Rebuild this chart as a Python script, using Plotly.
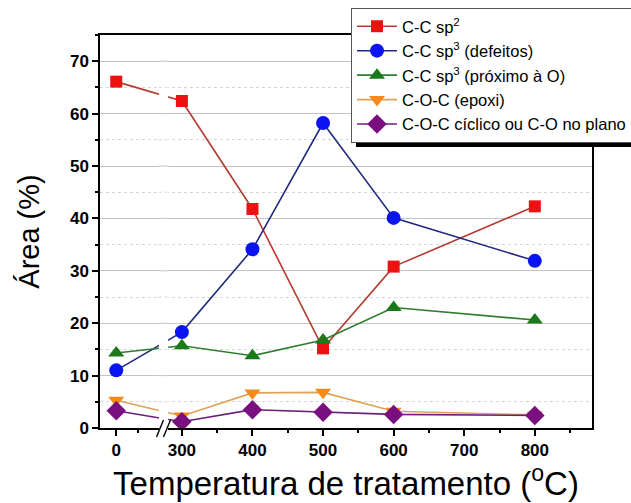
import plotly.graph_objects as go

# ---- data ----
temperaturas = [0, 300, 400, 500, 600, 800]
cc_sp2 = [66.1, 62.4, 41.8, 15.2, 30.8, 42.3]
cc_sp3_defeitos = [11.0, 18.3, 34.1, 58.2, 40.1, 31.9]
cc_sp3_proximo = [14.3, 15.7, 13.8, 16.8, 23.0, 20.6]
coc_epoxi = [5.3, 2.3, 6.7, 6.8, 3.2, 2.5]
coc_ciclico = [3.3, 1.2, 3.5, 3.0, 2.6, 2.4]

x_tick_labels = ["0", "300", "400", "500", "600", "700", "800"]
y_ticks = [0, 10, 20, 30, 40, 50, 60, 70]

# axis break: the "0" point is drawn just left of the break
ZERO_POS = 207
def xmap(t):
    return ZERO_POS if t == 0 else t

xs = [xmap(t) for t in temperaturas]
XR = [184, 881]
YR = [0, 75]

series = [
    ("C-C sp<sup>2</sup>", cc_sp2, "square", "#ee1111", "#b53a30", 12),
    ("C-C sp<sup>3</sup> (defeitos)", cc_sp3_defeitos, "circle", "#0a14f0", "#1f2a80", 14),
    ("C-C sp<sup>3</sup> (próximo à O)", cc_sp3_proximo, "triangle-up", "#1a7a1a", "#2f7d2f", 14),
    ("C-O-C (epoxi)", coc_epoxi, "triangle-down", "#f58a1a", "#e0a255", 14),
    ("C-O-C cíclico ou C-O no plano", coc_ciclico, "diamond", "#7a0f80", "#6a1f78", 15),
]

fig = go.Figure()
for name, vals, sym, mc, lc, ms in series:
    fig.add_trace(go.Scatter(
        x=xs, y=vals, name=name, mode="lines+markers",
        line=dict(color=lc, width=1.6),
        marker=dict(symbol=sym, color=mc, size=ms, line=dict(width=0)),
    ))

W, H = 631, 503
ML, MR, MT, MB = 100, 39, 35, 75
pw = W - ML - MR
ph = H - MT - MB

def px2paper_x(px):
    return (px - ML) / pw

def py2paper_y(py):
    return (H - MB - py) / ph

shapes = []
# gap in the data lines at the axis break
gap0, gap1 = 267.5, 280.5
shapes.append(dict(type="rect", xref="x", yref="y", x0=gap0, x1=gap1, y0=0.4, y1=74.6,
                   fillcolor="white", line=dict(width=0), layer="above"))
# redraw gridlines across the gap
for v in range(5, 75, 5):
    major = v % 10 == 0
    shapes.append(dict(type="line", xref="x", yref="y", x0=gap0 - 0.5, x1=gap1 + 0.5, y0=v, y1=v,
                       line=dict(color="#c4c4c4" if major else "#d6d6d6", width=1,
                                 dash="solid" if major else "dot"),
                       layer="above"))
# break on the x axis
shapes.append(dict(type="rect", xref="paper", yref="paper",
                   x0=px2paper_x(159), x1=px2paper_x(168),
                   y0=py2paper_y(430), y1=py2paper_y(426),
                   fillcolor="white", line=dict(width=0), layer="above"))
for cx in (160, 167):
    shapes.append(dict(type="line", xref="paper", yref="paper",
                       x0=px2paper_x(cx - 3.5), y0=py2paper_y(437),
                       x1=px2paper_x(cx + 3.5), y1=py2paper_y(420),
                       line=dict(color="black", width=1.4), layer="above"))
# legend shadow
shapes.append(dict(type="rect", xref="paper", yref="paper",
                   x0=px2paper_x(356), x1=px2paper_x(680),
                   y0=py2paper_y(147), y1=py2paper_y(15),
                   fillcolor="black", line=dict(width=0), layer="above"))

fig.update_layout(
    width=W, height=H,
    margin=dict(l=ML, r=MR, t=MT, b=MB, pad=0, autoexpand=False),
    paper_bgcolor="white", plot_bgcolor="white",
    font=dict(family="Liberation Sans, Arial, sans-serif", color="black"),
    showlegend=True,
    legend=dict(
        x=px2paper_x(632), y=py2paper_y(8), xanchor="right", yanchor="top",
        bgcolor="white", bordercolor="#555555", borderwidth=1,
        font=dict(size=16.5, family="Liberation Sans, Arial, sans-serif", color="black"),
        tracegroupgap=0, itemwidth=40,
    ),
    shapes=shapes,
    xaxis=dict(
        range=XR, showgrid=False, zeroline=False, automargin=False,
        tickmode="array",
        tickvals=[ZERO_POS, 300, 400, 500, 600, 700, 800],
        ticktext=x_tick_labels,
        ticks="outside", ticklen=6, tickwidth=1.5, tickcolor="black",
        tickfont=dict(size=17, family="Liberation Sans, Arial, sans-serif", weight="bold"),
        minor=dict(tickmode="array", tickvals=[238, 350, 450, 550, 650, 750, 850],
                   ticks="outside", ticklen=3, tickwidth=1.5, tickcolor="black", showgrid=False),
        showline=True, linecolor="black", linewidth=1.5, mirror=True,
        title=dict(text="Temperatura de tratamento (<sup>o</sup>C)",
                   font=dict(size=33, family="Liberation Sans, Arial, sans-serif"),
                   standoff=4),
    ),
    yaxis=dict(
        range=YR, zeroline=False, automargin=False,
        tickmode="array", tickvals=y_ticks,
        showgrid=True, gridcolor="#c4c4c4", gridwidth=1,
        ticks="outside", ticklen=6, tickwidth=1.5, tickcolor="black",
        tickfont=dict(size=17, family="Liberation Sans, Arial, sans-serif", weight="bold"),
        minor=dict(dtick=5, tick0=0, ticks="outside", ticklen=3, tickwidth=1.5, tickcolor="black",
                   showgrid=True, gridcolor="#d6d6d6", griddash="dot", gridwidth=1),
        showline=True, linecolor="black", linewidth=1.5, mirror=True,
        title=dict(text="Área (%)", font=dict(size=29, family="Liberation Sans, Arial, sans-serif"),
                   standoff=22),
    ),
)

fig.write_html("out.html")
